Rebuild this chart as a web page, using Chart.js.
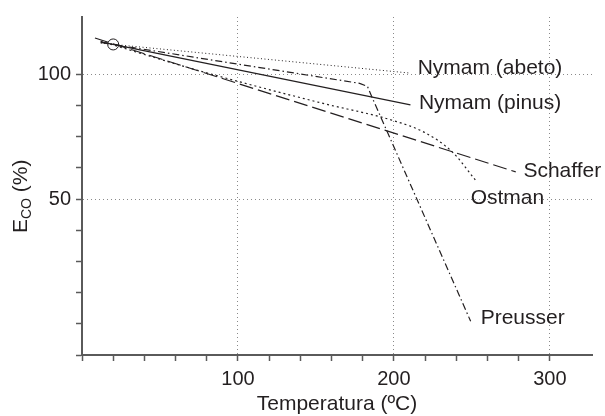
<!DOCTYPE html>
<html>
<head>
<meta charset="utf-8">
<script src="https://cdn.jsdelivr.net/npm/chart.js@4.4.1/dist/chart.umd.min.js"></script>
<style>
  html, body { margin: 0; padding: 0; background: #fff; }
</style>
</head>
<body>
<canvas id="chart" width="605" height="416"></canvas>
<script>
// ── Data (temperature °C → E_CO %) ───────────────────────────────────────
const abetoX    = [12, 210.6];
const abetoY    = [112.5, 100.5];
const pinusX    = [12, 210.6];
const pinusY    = [113, 87.8];
const preusserX = [12, 178, 183, 186.2, 249.2];
const preusserY = [112.8, 96.4, 95.2, 90.5, 1];
const schafferX = [8.3, 278.1];
const schafferY = [114.6, 60.9];
const ostmanX   = [12, 76, 153, 200, 220, 237.6, 252.4];
const ostmanY   = [113.3, 101.3, 88.6, 81.4, 76.6, 68.8, 57.5];
const originX   = [20];
const originY   = [112];

const xLabelTicks = [100, 200, 300];
const yLabelTicks = [50, 100];

// series name labels, anchored in data units
const seriesNames = ['Nymam (abeto)', 'Nymam (pinus)', 'Schaffer', 'Ostman', 'Preusser'];
const nameX       = [215.2, 216, 283, 249.2, 255.6];
const nameY       = [100, 86, 58.8, 48.2, 0];

// ── Style ────────────────────────────────────────────────────────────────
const INK   = '#231f20';
const AXIS  = '#5a5a5a';
const GRID  = '#8a8a8a';
const FONT  = "'Liberation Sans', Arial, Helvetica, sans-serif";

const _pts = (xs, ys) => xs.map((x, i) => ({ x, y: ys[i] }));

function _line(label, xs, ys, dash, extra = {}) {
  return {
    label,
    data: _pts(xs, ys),
    borderColor: INK,
    borderWidth: 1.2,
    borderDash: dash,
    pointRadius: 0,
    fill: false,
    tension: 0,
    ...extra,
  };
}

// ── Plugins: series names + y title with subscript ──────────────────────
const namesPlugin = {
  id: 'names',
  afterDatasetsDraw(chart) {
    const { ctx, scales: { x, y } } = chart;
    ctx.save();
    ctx.font = `21px ${FONT}`;
    ctx.fillStyle = INK;
    ctx.textBaseline = 'alphabetic';
    ctx.textAlign = 'left';
    seriesNames.forEach((t, i) => {
      ctx.fillText(t, x.getPixelForValue(nameX[i]), y.getPixelForValue(nameY[i]));
    });
    ctx.restore();
  },
};

const yTitlePlugin = {
  id: 'ytitle',
  afterDraw(chart) {
    const { ctx } = chart;
    ctx.save();
    ctx.translate(27, 233);
    ctx.rotate(-Math.PI / 2);
    ctx.fillStyle = INK;
    ctx.textBaseline = 'alphabetic';
    ctx.textAlign = 'left';
    ctx.font = `21px ${FONT}`;
    ctx.fillText('E', 0, 0);
    let w = ctx.measureText('E').width;
    ctx.font = `14px ${FONT}`;
    ctx.fillText('CO', w, 4);
    w += ctx.measureText('CO').width;
    ctx.font = `21px ${FONT}`;
    ctx.fillText(' (%)', w, 0);
    ctx.restore();
  },
};

// ── Chart ────────────────────────────────────────────────────────────────
new Chart(document.getElementById('chart'), {
  type: 'line',
  data: {
    datasets: [
      _line('Nymam (abeto)', abetoX, abetoY, [1, 2.5], { borderWidth: 1 }),
      _line('Nymam (pinus)', pinusX, pinusY, []),
      _line('Preusser', preusserX, preusserY, [7, 3, 1.5, 3]),
      _line('Schaffer', schafferX, schafferY, [14, 5]),
      _line('Ostman', ostmanX, ostmanY, [2, 3], { cubicInterpolationMode: 'monotone' }),
      {
        label: 'origin',
        data: _pts(originX, originY),
        showLine: false,
        pointRadius: 5.5,
        pointBorderColor: INK,
        pointBackgroundColor: 'rgba(0,0,0,0)',
        pointBorderWidth: 1,
      },
    ],
  },
  options: {
    responsive: false,
    animation: false,
    devicePixelRatio: 1,
    layout: { padding: { top: 15, right: 13, left: 0, bottom: 0 } },
    plugins: { legend: { display: false }, tooltip: { enabled: false } },
    scales: {
      x: {
        type: 'linear',
        min: 0,
        max: 327,
        afterFit: s => { s.height = 61; },
        ticks: {
          stepSize: 20,
          autoSkip: false,
          maxRotation: 0,
          padding: 6,
          color: INK,
          font: { family: FONT, size: 20 },
          callback: v => (xLabelTicks.includes(v) ? v : ''),
        },
        grid: {
          color: c => (xLabelTicks.includes(c.tick && c.tick.value) ? GRID : 'rgba(0,0,0,0)'),
          tickColor: c => (c.tick && c.tick.value <= 300 ? AXIS : 'rgba(0,0,0,0)'),
          tickLength: 6,
          tickWidth: 1.5,
          lineWidth: 1,
        },
        border: { display: true, color: AXIS, width: 2, dash: [1, 3] },
        title: {
          display: true,
          text: 'Temperatura (ºC)',
          color: INK,
          font: { family: FONT, size: 21 },
          padding: { top: 0, bottom: -1 },
        },
      },
      y: {
        type: 'linear',
        min: -12.5,
        max: 123,
        afterFit: s => { s.width = 82; },
        ticks: {
          stepSize: 12.5,
          autoSkip: false,
          padding: 5,
          color: INK,
          font: { family: FONT, size: 20 },
          callback: v => (yLabelTicks.includes(v) ? v : ''),
        },
        grid: {
          color: c => (yLabelTicks.includes(c.tick && c.tick.value) ? GRID : 'rgba(0,0,0,0)'),
          tickColor: c => (c.tick && c.tick.value <= 100 ? AXIS : 'rgba(0,0,0,0)'),
          tickLength: 6,
          tickWidth: 1.5,
          lineWidth: 1,
        },
        border: { display: true, color: AXIS, width: 2, dash: [1, 3] },
      },
    },
  },
  plugins: [namesPlugin, yTitlePlugin],
});
</script>
</body>
</html>
